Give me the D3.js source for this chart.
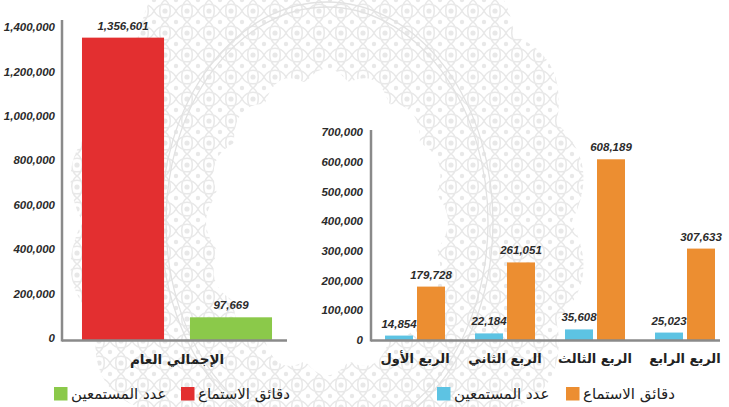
<!DOCTYPE html>
<html><head><meta charset="utf-8">
<script src="https://cdn.jsdelivr.net/npm/d3@7/dist/d3.min.js"></script>
<style>body{margin:0;background:#fff}svg{display:block}</style>
</head><body>
<svg id="c" width="729" height="407"></svg>
<script>
// ---- data ----
const totalCategories = ["الإجمالي العام"];
const totalSeries = ["دقائق الاستماع", "عدد المستمعين"];
const totalMinutes = [1356601];
const totalListeners = [97669];
const totalTicks = [0, 200000, 400000, 600000, 800000, 1000000, 1200000, 1400000];

const quarterCategories = ["الربع الأول", "الربع الثاني", "الربع الثالث", "الربع الرابع"];
const quarterSeries = ["عدد المستمعين", "دقائق الاستماع"];
const quarterListeners = [14854, 22184, 35608, 25023];
const quarterMinutes = [179728, 261051, 608189, 307633];
const quarterTicks = [0, 100000, 200000, 300000, 400000, 500000, 600000, 700000];

const leftColors = {"دقائق الاستماع": "#e32f30", "عدد المستمعين": "#8bc94a"};
const rightColors = {"عدد المستمعين": "#5dc3e3", "دقائق الاستماع": "#ec8e31"};

const NUM_FONT = "'Liberation Sans',Arial,sans-serif";
const AR_FONT = "'DejaVu Sans','Noto Sans',sans-serif";
const fmt = d3.format(",");

const svg = d3.select("#c");

// ---- decorative background medallion ----
const defs = svg.append("defs");
const pat = defs.append("pattern").attr("id", "arab").attr("patternUnits", "userSpaceOnUse")
  .attr("width", 22).attr("height", 22);
const pc = "#e8e8e8";
pat.append("path").attr("d", "M0,11 C5,2 17,2 22,11 M0,11 C5,20 17,20 22,11 M11,0 C4,5 4,17 11,22 M11,0 C18,5 18,17 11,22")
  .attr("fill", "none").attr("stroke", pc).attr("stroke-width", 1.5);
pat.append("circle").attr("cx", 11).attr("cy", 11).attr("r", 2.6).attr("fill", pc);
[[0,0],[22,0],[0,22],[22,22]].forEach(p =>
  pat.append("circle").attr("cx", p[0]).attr("cy", p[1]).attr("r", 2.2).attr("fill", pc));

const cx = 327, cy = 222;
function scallop(rx, ry, n, amp) {
  const pts = d3.range(0, 360, 2).map(deg => {
    const t = deg * Math.PI / 180;
    const k = 1 + amp * Math.abs(Math.cos(n * t / 2));
    return [cx + rx * k * Math.sin(t), cy - ry * k * Math.cos(t)];
  });
  return d3.line().curve(d3.curveCardinalClosed)(pts);
}
const bg = svg.append("g").attr("class", "bg");
bg.append("path").attr("d", scallop(245, 290, 18, 0.06) + scallop(112, 142, 16, 0.08))
  .attr("fill", "url(#arab)").attr("fill-rule", "evenodd");
bg.append("ellipse").attr("cx", cx).attr("cy", cy).attr("rx", 161).attr("ry", 215)
  .attr("fill", "none").attr("stroke", "#e2e2e2").attr("stroke-width", 1.3);
bg.append("ellipse").attr("cx", cx).attr("cy", cy).attr("rx", 166).attr("ry", 220)
  .attr("fill", "none").attr("stroke", "#e2e2e2").attr("stroke-width", 1.3);

// ---- helpers ----
function styleAxisText(g) {
  g.select(".domain").remove();
  g.selectAll("text").attr("font-family", NUM_FONT).attr("font-weight", "bold")
    .attr("font-style", "italic").attr("font-size", 11.5).attr("fill", "#2b2b2b");
}
const axisColor = "#8a8a8a";

// ================= LEFT CHART =================
const yL = d3.scaleLinear().domain([0, 1400000]).range([339, 28]);
const x0L = d3.scaleBand().domain(totalCategories).range([70, 284]);
const x1L = d3.scaleBand().domain(totalSeries).range([0, x0L.bandwidth()]).paddingInner(0.24).paddingOuter(0.111);

const leftAxis = svg.append("g").attr("transform", "translate(62,-1)")
  .call(d3.axisLeft(yL).tickValues(totalTicks).tickSize(0).tickPadding(7).tickFormat(fmt));
styleAxisText(leftAxis);

const leftRows = totalCategories.map((c, i) => ({cat: c, vals: [
  {s: totalSeries[0], v: totalMinutes[i]}, {s: totalSeries[1], v: totalListeners[i]}]}));
const lg = svg.selectAll("g.lgrp").data(leftRows).join("g").attr("class", "lgrp")
  .attr("transform", d => `translate(${x0L(d.cat)},0)`);
lg.selectAll("rect").data(d => d.vals).join("rect")
  .attr("x", d => x1L(d.s)).attr("width", x1L.bandwidth())
  .attr("y", d => yL(d.v)).attr("height", d => yL(0) + 1 - yL(d.v))
  .attr("fill", d => leftColors[d.s]);
lg.selectAll("text").data(d => d.vals).join("text")
  .attr("x", d => x1L(d.s) + x1L.bandwidth() / 2).attr("y", d => yL(d.v) - 8)
  .attr("text-anchor", "middle").attr("font-family", NUM_FONT).attr("font-weight", "bold")
  .attr("font-style", "italic").attr("font-size", 11.5).attr("fill", "#2b2b2b").text(d => fmt(d.v));

svg.append("line").attr("x1", 62).attr("x2", 62).attr("y1", 20).attr("y2", yL(0) + 2.5)
  .attr("stroke", axisColor).attr("stroke-width", 2.5);
svg.append("line").attr("x1", 62).attr("x2", 287).attr("y1", yL(0) + 1.5).attr("y2", yL(0) + 1.5)
  .attr("stroke", axisColor).attr("stroke-width", 2.5);

const leftX = svg.append("g").attr("transform", `translate(0,${yL(0) + 1})`)
  .call(d3.axisBottom(x0L).tickSize(0).tickPadding(14));
leftX.select(".domain").remove();
leftX.selectAll("text").attr("font-family", AR_FONT).attr("font-weight", "bold")
  .attr("font-size", 13.5).attr("fill", "#222");

// ================= RIGHT CHART =================
const yR = d3.scaleLinear().domain([0, 700000]).range([340, 132]);
const x0R = d3.scaleBand().domain(quarterCategories).range([370, 730]);
const x1R = d3.scaleBand().domain(quarterSeries).range([0, x0R.bandwidth()]).paddingInner(0.125).paddingOuter(0.469);

const rightAxis = svg.append("g").attr("transform", "translate(371,0)")
  .call(d3.axisLeft(yR).tickValues(quarterTicks).tickSize(0).tickPadding(8).tickFormat(fmt));
styleAxisText(rightAxis);

const rightRows = quarterCategories.map((c, i) => ({cat: c, vals: [
  {s: quarterSeries[0], v: quarterListeners[i]}, {s: quarterSeries[1], v: quarterMinutes[i]}]}));
const rg = svg.selectAll("g.rgrp").data(rightRows).join("g").attr("class", "rgrp")
  .attr("transform", d => `translate(${x0R(d.cat)},0)`);
rg.selectAll("rect").data(d => d.vals).join("rect")
  .attr("x", d => x1R(d.s)).attr("width", x1R.bandwidth())
  .attr("y", d => yR(d.v)).attr("height", d => yR(0) - yR(d.v))
  .attr("fill", d => rightColors[d.s]);
rg.selectAll("text").data(d => d.vals).join("text")
  .attr("x", d => x1R(d.s) + x1R.bandwidth() / 2).attr("y", d => yR(d.v) - 8)
  .attr("text-anchor", "middle").attr("font-family", NUM_FONT).attr("font-weight", "bold")
  .attr("font-style", "italic").attr("font-size", 11.5).attr("fill", "#2b2b2b").text(d => fmt(d.v));

svg.append("line").attr("x1", 371).attr("x2", 371).attr("y1", 130).attr("y2", yR(0) + 1.5)
  .attr("stroke", axisColor).attr("stroke-width", 2.5);
svg.append("line").attr("x1", 371).attr("x2", 720).attr("y1", yR(0) + 0.5).attr("y2", yR(0) + 0.5)
  .attr("stroke", axisColor).attr("stroke-width", 2.5);

const rightX = svg.append("g").attr("transform", `translate(0,${yR(0)})`)
  .call(d3.axisBottom(x0R).tickSize(0).tickPadding(14));
rightX.select(".domain").remove();
rightX.selectAll("text").attr("font-family", AR_FONT).attr("font-weight", "bold")
  .attr("font-size", 13).attr("fill", "#222");

// ================= LEGENDS =================
function legend(items) {
  const g = svg.append("g");
  const it = g.selectAll("g").data(items).join("g");
  it.append("rect").attr("x", d => d.x).attr("y", 387).attr("width", 13.5).attr("height", 13.5)
    .attr("fill", d => d.color);
  it.append("text").attr("x", d => d.x + 17).attr("y", 399).attr("text-anchor", "start")
    .attr("font-family", AR_FONT).attr("font-size", 15).attr("fill", "#222").text(d => d.label);
}
legend([
  {label: totalSeries[1], color: leftColors[totalSeries[1]], x: 54},
  {label: totalSeries[0], color: leftColors[totalSeries[0]], x: 181}
]);
legend([
  {label: quarterSeries[0], color: rightColors[quarterSeries[0]], x: 437},
  {label: quarterSeries[1], color: rightColors[quarterSeries[1]], x: 566}
]);
</script>
</body></html>
